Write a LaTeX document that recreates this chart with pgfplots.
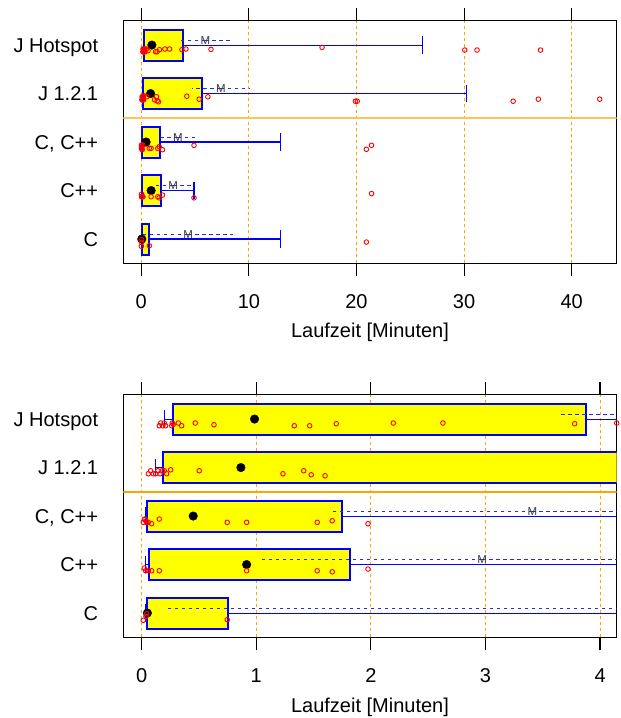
\documentclass[border=0pt]{standalone}
\usepackage{fontspec}
\setmainfont{Liberation Sans}
\usepackage{pgfplots}
\pgfplotsset{compat=1.18}
\usepackage{pgfplotstable}
\usepgfplotslibrary{statistics}

\definecolor{boxyellow}{RGB}{255,255,0}
\definecolor{gridorange}{RGB}{255,165,0}
\definecolor{seporange}{RGB}{255,195,90}
\definecolor{mgray}{RGB}{60,60,60}

% single runs (minutes), y = row position minus a little jitter
\pgfplotstableread{
x y
0.154 4.862
0.166 4.918
0.183 4.862
0.197 4.918
0.209 4.862
0.262 4.862
0.267 4.918
0.276 4.890
0.320 4.918
0.349 4.862
0.468 4.918
0.631 4.883
1.332 4.862
1.466 4.862
1.698 4.904
2.196 4.918
2.629 4.918
3.778 4.904
4.145 4.918
6.48 4.911
16.8 4.952
30.06 4.897
31.2 4.897
37.1 4.897
}\ptsJH
\pgfplotstableread{
x y
0.058 3.872
0.078 3.934
0.101 3.872
0.122 3.872
0.142 3.934
0.160 3.872
0.180 3.934
0.197 3.934
0.218 3.872
0.253 3.954
0.503 3.934
1.233 3.872
1.414 3.934
1.480 3.851
1.600 3.830
4.23 3.945
5.38 3.884
6.19 3.932
19.9 3.842
20.07 3.842
34.56 3.842
36.9 3.884
42.6 3.884
}\ptsJold
\pgfplotstableread{
x y
0.014 2.870
0.023 2.930
0.029 2.938
0.038 2.900
0.044 2.870
0.058 2.870
0.087 2.842
0.154 2.938
0.747 2.870
0.916 2.870
1.532 2.870
1.663 2.904
1.975 2.842
4.9 2.932
20.92 2.850
21.4 2.932
}\ptsCC
\pgfplotstableread{
x y
0.023 1.927
0.035 1.872
0.058 1.872
0.087 1.872
0.154 1.872
0.916 1.872
1.532 1.872
1.663 1.850
1.975 1.907
4.9 1.850
21.4 1.938
}\ptsCpp
\pgfplotstableread{
x y
0.014 0.850
0.038 0.931
0.044 0.986
0.747 0.863
20.92 0.938
}\ptsC
% mean +- standard error, drawn a bit above the row
\pgfplotstableread{
mean se my
5.95 2.30 5.1
7.40 2.64 4.1
3.41 1.76 3.1
2.97 1.92 2.1
4.35 4.15 1.1
}\means

\pgfplotsset{
  laufzeit/.style={
    scale only axis, width=493.4pt, height=242.5pt, anchor=south west,
    ymin=0.5, ymax=5.5, ytick={1,2,3,4,5},
    yticklabels={C, C++, {C, C++}, J 1.2.1, J Hotspot},
    ytick style={draw=none},
    tick align=outside, major tick length=13pt,
    xtick style={black, line width=1.2pt},
    axis line style={line width=1.2pt},
    xmajorgrids,
    grid style={gridorange, dash pattern=on 3pt off 3pt, line width=0.8pt},
    tick label style={font=\fontsize{20}{24}\selectfont},
    /pgf/number format/assume math mode=true,
    yticklabel style={anchor=base east, inner sep=0pt, xshift=-12pt, yshift=-7.3pt},
    xticklabel style={anchor=base, inner sep=0pt, yshift=-32.5pt},
    xlabel={Laufzeit [Minuten]},
    xlabel style={font=\fontsize{20}{24}\selectfont, at={(axis description cs:0.5,0)},
      anchor=base, inner sep=0pt, yshift=-74.7pt},
    boxplot/every box/.style={fill=boxyellow, line width=2pt},
    boxplot/every median/.style={draw=none},
    boxplot/every whisker/.style={line width=1.1pt},
    boxplot/box extend=0.64,
    boxplot/whisker extend=0.36,
  }
}

\newcommand{\boxes}{%
  \addplot[draw=blue, boxplot prepared={draw position=5, lower whisker=0.2,
    lower quartile=0.27, median=0.985, upper quartile=3.875, upper whisker=26.15}] coordinates {};
  \addplot[draw=blue, boxplot prepared={draw position=4, lower whisker=0.122,
    lower quartile=0.182, median=0.866, upper quartile=5.64, upper whisker=30.25}] coordinates {};
  \addplot[draw=blue, boxplot prepared={draw position=3, lower whisker=0.03,
    lower quartile=0.05, median=0.45, upper quartile=1.745, upper whisker=12.93}] coordinates {};
  \addplot[draw=blue, boxplot prepared={draw position=2, lower whisker=0.03,
    lower quartile=0.066, median=0.916, upper quartile=1.82, upper whisker=4.9}] coordinates {};
  \addplot[draw=blue, boxplot prepared={draw position=1, lower whisker=0.03,
    lower quartile=0.05, median=0.05, upper quartile=0.75, upper whisker=12.93}] coordinates {};
  % mean with standard error
  \addplot[only marks, mark=text, text mark={M}, text mark as node=true,
    text mark style={font=\fontsize{11.5}{12}\selectfont, text=mgray, inner sep=0pt},
    error bars/.cd, x dir=both, x explicit, error mark=none,
    error bar style={blue!85, dash pattern=on 3.5pt off 3.5pt, line width=1.2pt}]
    table[x=mean, y=my, x error=se] {\means};
  % medians
  \addplot[only marks, mark=*, mark size=4.3pt, black] coordinates {
    (0.985,5) (0.866,4) (0.45,3) (0.916,2) (0.05,1)};
  % single values
  \addplot[only marks, mark=o, mark size=2.3pt, red, mark options={line width=0.9pt}] table {\ptsJH};
  \addplot[only marks, mark=o, mark size=2.3pt, red, mark options={line width=0.9pt}] table {\ptsJold};
  \addplot[only marks, mark=o, mark size=2.3pt, red, mark options={line width=0.9pt}] table {\ptsCC};
  \addplot[only marks, mark=o, mark size=2.3pt, red, mark options={line width=0.9pt}] table {\ptsCpp};
  \addplot[only marks, mark=o, mark size=2.3pt, red, mark options={line width=0.9pt}] table {\ptsC};
}

\begin{document}
\begin{tikzpicture}
\useasboundingbox (0,0) rectangle (621pt,718pt);

\begin{axis}[laufzeit, at={(123.3pt,454.7pt)},
    xmin=-1.67, xmax=44.18, xtick={0,10,20,30,40}]
  \boxes
  \addplot[seporange, line width=1.8pt] coordinates {(-5,3.5) (50,3.5)};
\end{axis}

\begin{axis}[laufzeit, at={(123.3pt,80.7pt)},
    xmin=-0.16, xmax=4.145, xtick={0,1,2,3,4}]
  \boxes
  \addplot[gridorange, line width=1.4pt] coordinates {(-5,3.5) (50,3.5)};
\end{axis}
\end{tikzpicture}
\end{document}
